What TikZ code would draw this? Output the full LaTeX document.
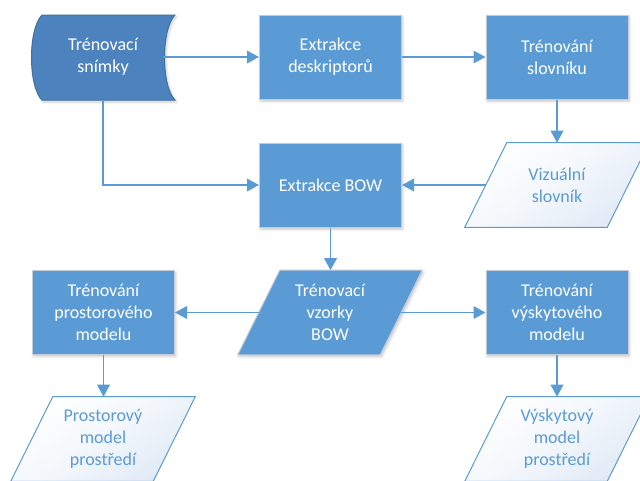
\documentclass[tikz,border=0pt]{standalone}
\usepackage{fontspec}
\setmainfont{Carlito}
\usetikzlibrary{calc,arrows.meta,shadows.blur}

\definecolor{office}{HTML}{5B9BD5}
\definecolor{darkfill}{HTML}{4C82BE}
\definecolor{darkrim}{HTML}{41719C}
\definecolor{rimgrey}{HTML}{C3CCD6}
\definecolor{paleblue}{HTML}{E0EAF6}

\pgfdeclarelayer{background}
\pgfsetlayers{background,main}

\tikzset{
  boxfont/.style={font=\fontsize{13.5pt}{16.5pt}\selectfont, align=center},
  softshadow/.style={blur shadow={shadow xshift=1pt, shadow yshift=-1.5pt,
      shadow blur radius=2pt, shadow opacity=22}},
  % process box
  proc/.style={boxfont, draw=rimgrey, line width=0.75pt, fill=office,
      text=white, minimum width=106.5pt, minimum height=63pt, inner sep=0pt,
      softshadow},
  % frame for a parallelogram; the outline is drawn behind it
  dataframe/.style={boxfont, minimum width=106.5pt, minimum height=63pt,
      inner sep=0pt},
  lightdata/.style={draw=office, line width=0.75pt, shading=axis,
      top color=white, bottom color=paleblue, middle color=white!60!paleblue,
      shading angle=35},
  solidata/.style={draw=rimgrey, line width=0.75pt, fill=office, softshadow},
  conn/.style={draw=office, line width=1.1pt,
      -{Triangle[length=9pt,width=9.5pt]}},
}

% parallelogram outline around a named frame node, slant of 21 units
\newcommand{\paraoutline}[2]{%
  \path[#2] ($(#1.north west)+(21,0)$) -- ($(#1.north east)+(21,0)$)
    -- ($(#1.south east)+(-21,0)$) -- ($(#1.south west)+(-21,0)$) -- cycle;}

\begin{document}
\begin{tikzpicture}[x=0.75pt,y=-0.75pt]
  \useasboundingbox (0,0) rectangle (640,480);

  % stored data: training images
  \node[boxfont, text=white, minimum width=90pt, minimum height=63.75pt,
        inner sep=0pt] (snim) at (103,57) {Trénovací\\snímky};

  % process steps
  \node[proc] (desk) at (330.5,57) {Extrakce\\deskriptorů};
  \node[proc] (slov) at (557,57) {Trénování\\slovníku};
  \node[proc] (bow)  at (330.5,185) {Extrakce BOW};
  \node[proc] (prost) at (103.5,312.5) {Trénování\\prostorového\\modelu};
  \node[proc] (vysk) at (557,312.5) {Trénování\\výskytového\\modelu};

  % data items
  \node[dataframe, text=office] (viz) at (557,185) {Vizuální\\slovník};
  \node[dataframe, text=white] (vzor) at (330,312.5) {Trénovací\\vzorky\\BOW};
  \node[dataframe, text=office] (pmod) at (103,439) {Prostorový\\model\\prostředí};
  \node[dataframe, text=office] (vmod) at (557,439) {Výskytový\\model\\prostředí};

  \begin{pgfonlayer}{background}
    \path[draw=darkrim, line width=0.75pt, fill=darkfill, softshadow]
      (42,15) -- (175,15) .. controls (161,29) and (161,86) .. (175,100)
      -- (42,100) .. controls (28,86) and (28,29) .. (42,15) -- cycle;
    \paraoutline{viz}{lightdata}
    \paraoutline{vzor}{solidata}
    \paraoutline{pmod}{lightdata}
    \paraoutline{vmod}{lightdata}
  \end{pgfonlayer}

  % connectors
  \draw[conn] (snim.east) -- (desk.west);
  \draw[conn] (desk.east) -- (slov.west);
  \draw[conn] (slov.south) -- (viz.north);
  \draw[conn] (viz.west) -- (bow.east);
  \draw[conn] (snim.south) |- (bow.west);
  \draw[conn] (bow.south) -- (bow.south |- vzor.north);
  \draw[conn] (vzor.west) -- (prost.east);
  \draw[conn] (vzor.east) -- (vysk.west);
  \draw[conn] (prost.south) -- (prost.south |- pmod.north);
  \draw[conn] (vysk.south) -- (vmod.north);
\end{tikzpicture}
\end{document}
